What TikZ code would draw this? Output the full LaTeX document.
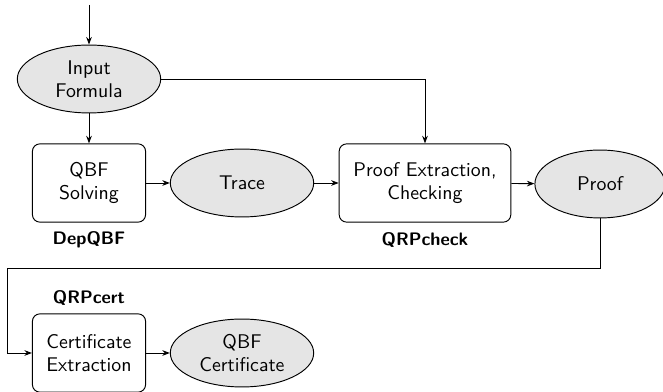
\documentclass[tikz,border=0pt]{standalone}
\usetikzlibrary{arrows.meta,shapes.geometric}
\begin{document}
\begin{tikzpicture}[x=0.53pt, y=-0.53pt, >={Stealth[length=4pt, width=3pt]}, line width=0.5pt,
	every node/.style={font=\sffamily\fontsize{10.5pt}{12pt}\selectfont, align=center},
	proc/.style={draw, rounded corners=4pt, minimum width=60pt, minimum height=41.5pt, inner sep=2pt},
	data/.style={ellipse, draw, fill=black!10, minimum width=76pt, minimum height=36pt, inner sep=1pt},
	tool/.style={font=\sffamily\bfseries\fontsize{9.6pt}{11pt}\selectfont}]
			\useasboundingbox (0,0) rectangle (663,392);
			\node[data] at (89,79) (input) {Input\\Formula};
			\node[proc] at (89,183) (solve) {QBF\\Solving};
			\node[data] at (242,183) (trace) {Trace};
			\node[proc, minimum width=91pt] at (425,183) (check) {Proof Extraction,\\Checking};
			\node[data, minimum width=69pt] at (600,184) (proof) {Proof};
			\node[proc] at (89,353) (certx) {Certificate\\Extraction};
			\node[data] at (242,353) (cert) {QBF\\Certificate};
			\node[tool] at (89,240) (depqbf) {DepQBF};
			\node[tool] at (425,240) (qrpcheck) {QRPcheck};
			\node[tool] at (89,298) (qrpcert) {QRPcert};
			\coordinate (start) at (89,5);
			\coordinate (c1) at (600,268);
			\coordinate (c2) at (7,268);
			\draw[->] (start) -- (input);
			\draw[->] (input) -- (solve);
			\draw[->] (input) -| (check);
			\draw[->] (solve) -- (trace);
			\draw[->] (trace) -- (check);
			\draw[->] (check) -- (proof);
			\draw[->] (proof.south) -- (c1) -- (c2) |- (certx);
			\draw[->] (certx) -- (cert);
		\end{tikzpicture}
\end{document}
